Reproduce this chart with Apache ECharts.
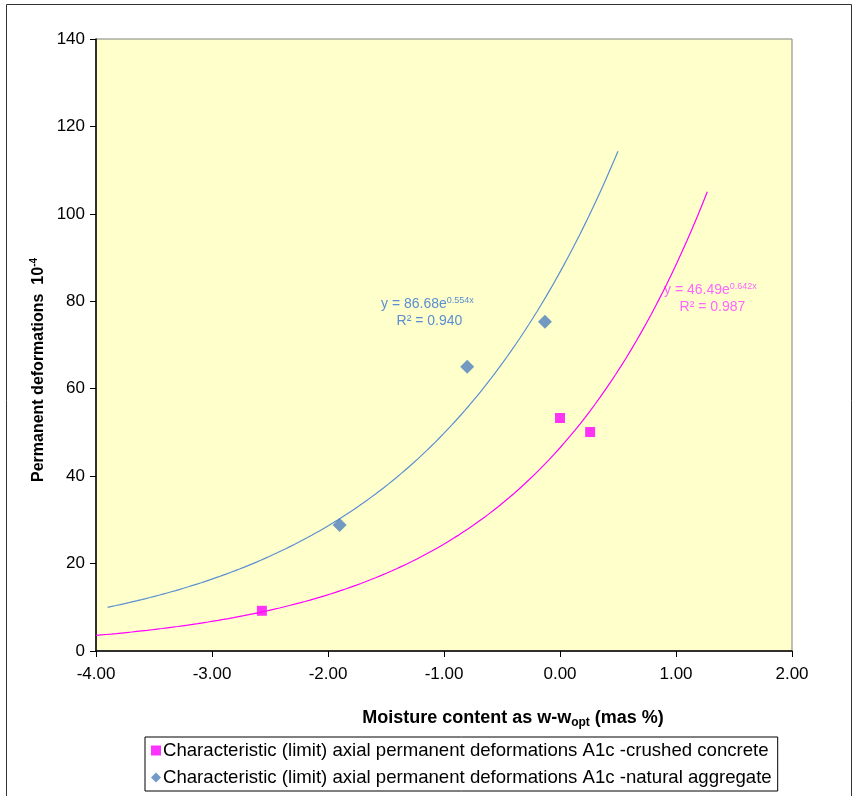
<!DOCTYPE html>
<html>
<head>
<meta charset="utf-8">
<script src="https://cdn.jsdelivr.net/npm/echarts@6/dist/echarts.min.js"></script>
<style>
  html, body { margin: 0; padding: 0; background: #fff; }
  #chart { width: 856px; height: 796px; }
</style>
</head>
<body>
<div id="chart"></div>
<script>
// Measured points: moisture offset (w - w_opt, mas %) vs permanent deformation (10^-4)
const concreteX = [-2.57, 0.00, 0.26];
const concreteY = [9.2, 53.3, 50.1];
const aggregateX = [-1.90, -0.80, -0.13];
const aggregateY = [28.8, 65.0, 75.3];

// Exponential trendlines y = a * e^(b x), as printed on the chart
const concreteFit = [46.49, 0.642];
const aggregateFit = [86.68, 0.554];
const concreteR2 = '0.987';
const aggregateR2 = '0.940';
// x extent over which each trendline is drawn
const concreteFitRange = [-4.0, 1.27];
const aggregateFitRange = [-3.9, 0.5];

const xTicks = [-4, -3, -2, -1, 0, 1, 2];
const yTicks = [0, 20, 40, 60, 80, 100, 120, 140];

const seriesNames = [
  'Characteristic (limit) axial permanent deformations A1c -crushed concrete',
  'Characteristic (limit) axial permanent deformations A1c -natural aggregate'
];

const PINK = '#ff00ff';
const BLUE = '#4f81bd';
const BLUE_LINE = '#5b8fd2';
const FONT = 'Liberation Sans, Arial, sans-serif';

function pairs(xs, ys) { return xs.map((x, i) => [x, ys[i]]); }
function fitCurve(fit, range, n) {
  const pts = [];
  for (let i = 0; i <= n; i++) {
    const x = range[0] + (range[1] - range[0]) * i / n;
    pts.push([x, fit[0] * Math.exp(fit[1] * x)]);
  }
  return pts;
}

const chart = echarts.init(document.getElementById('chart'), null, { renderer: 'canvas' });

const eqRich = (color) => ({
  t: { fontSize: 14, fontFamily: FONT, fill: color, lineHeight: 17 },
  s: { fontSize: 9, fontFamily: FONT, fill: color, verticalAlign: 'top', lineHeight: 17, padding: [0, 0, 7, 0] }
});

chart.setOption({
  animation: false,
  backgroundColor: '#ffffff',
  textStyle: { fontFamily: FONT },
  grid: {
    left: 96, top: 39, width: 696, height: 612,
    show: true, backgroundColor: '#ffffcc', borderColor: '#808080', borderWidth: 1
  },
  xAxis: {
    type: 'value', min: xTicks[0], max: xTicks[xTicks.length - 1], interval: 1,
    axisLine: { show: true, onZero: false, lineStyle: { color: '#000', width: 1.5 } },
    axisTick: { show: true, length: 6, lineStyle: { color: '#000' } },
    splitLine: { show: false },
    axisLabel: { color: '#000', fontSize: 17, margin: 15, formatter: v => v.toFixed(2) }
  },
  yAxis: {
    type: 'value', min: yTicks[0], max: yTicks[yTicks.length - 1], interval: 20,
    axisLine: { show: true, onZero: false, lineStyle: { color: '#000', width: 1.5 } },
    axisTick: { show: true, length: 6, lineStyle: { color: '#000' } },
    splitLine: { show: false },
    axisLabel: { color: '#000', fontSize: 17, margin: 11 }
  },
  legend: {
    orient: 'vertical', left: 145, top: 737,
    data: [
      { name: seriesNames[0], icon: 'rect' },
      { name: seriesNames[1], icon: 'diamond' }
    ],
    itemWidth: 10, itemHeight: 10, itemGap: 8,
    padding: [4, 6, 4, 6],
    borderColor: '#000', borderWidth: 1, backgroundColor: '#fff',
    textStyle: { fontSize: 18.6, color: '#000', padding: [0, 0, 0, -3] },
    selectedMode: false
  },
  series: [
    {
      name: 'fit-concrete', type: 'line', showSymbol: false, symbol: 'none', smooth: false,
      data: fitCurve(concreteFit, concreteFitRange, 120),
      lineStyle: { color: PINK, width: 1.2 }, silent: true, z: 2
    },
    {
      name: 'fit-aggregate', type: 'line', showSymbol: false, symbol: 'none', smooth: false,
      data: fitCurve(aggregateFit, aggregateFitRange, 120),
      lineStyle: { color: BLUE_LINE, width: 1.2 }, silent: true, z: 2
    },
    {
      name: seriesNames[0], type: 'scatter', symbol: 'rect', symbolSize: 10,
      data: pairs(concreteX, concreteY),
      itemStyle: { color: PINK }, z: 3
    },
    {
      name: seriesNames[1], type: 'scatter', symbol: 'diamond', symbolSize: 14,
      data: pairs(aggregateX, aggregateY),
      itemStyle: { color: BLUE }, z: 3
    }
  ],
  graphic: [
    {
      type: 'rect', silent: true, z: -10,
      shape: { x: 6.5, y: 4.5, width: 845, height: 800 },
      style: { fill: 'none', stroke: '#333', lineWidth: 1 }
    },
    {
      type: 'text', left: 381, top: 296,
      style: {
        text: '{t|y = ' + aggregateFit[0].toFixed(2) + 'e}{s|' + aggregateFit[1].toFixed(3) + 'x}\n{t|    R² = ' + aggregateR2 + '}',
        rich: eqRich(BLUE_LINE)
      }
    },
    {
      type: 'text', left: 664, top: 282,
      style: {
        text: '{t|y = ' + concreteFit[0].toFixed(2) + 'e}{s|' + concreteFit[1].toFixed(3) + 'x}\n{t|    R² = ' + concreteR2 + '}',
        rich: eqRich('#ff66ff')
      }
    },
    {
      type: 'text', x: 39, y: 370, rotation: Math.PI / 2,
      style: {
        text: '{t|Permanent deformations  10}{s|-4}',
        align: 'center', verticalAlign: 'middle',
        rich: {
          t: { fontSize: 16, fontWeight: 'bold', fontFamily: FONT, fill: '#000', lineHeight: 20 },
          s: { fontSize: 10, fontWeight: 'bold', fontFamily: FONT, fill: '#000', verticalAlign: 'top', lineHeight: 20, padding: [0, 0, 8, 0] }
        }
      }
    },
    {
      type: 'text', x: 513, y: 718,
      style: {
        text: '{t|Moisture content as w-w}{b|opt}{t| (mas %)}',
        align: 'center', verticalAlign: 'middle',
        rich: {
          t: { fontSize: 18, fontWeight: 'bold', fontFamily: FONT, fill: '#000', lineHeight: 22 },
          b: { fontSize: 12, fontWeight: 'bold', fontFamily: FONT, fill: '#000', verticalAlign: 'bottom', lineHeight: 22, padding: [6, 0, 0, 0] }
        }
      }
    }
  ]
});
</script>
</body>
</html>
